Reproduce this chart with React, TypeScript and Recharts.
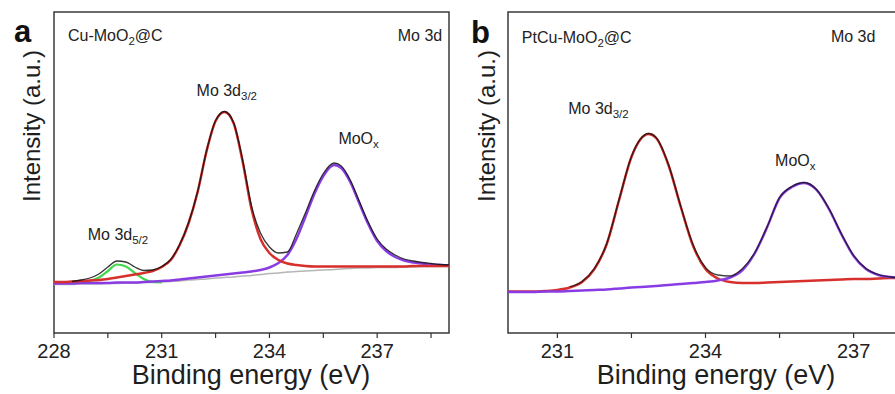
import React from "react";
import { LineChart, Line, XAxis, YAxis, ReferenceArea, ReferenceDot } from "recharts";

const FONT = '"Liberation Sans", Arial, Helvetica, sans-serif';

// ---- panel a: Cu-MoO2@C ----
const energyA = [228, 228.25, 228.5, 228.75, 229, 229.25, 229.5, 229.75, 230, 230.25, 230.5, 230.75, 231, 231.25, 231.5, 231.75, 232, 232.25, 232.5, 232.75, 233, 233.25, 233.5, 233.75, 234, 234.25, 234.5, 234.75, 235, 235.25, 235.5, 235.8, 236, 236.25, 236.5, 236.75, 237, 237.25, 237.5, 237.75, 238, 238.25, 238.5, 238.75, 239];
const backgroundA = [48.5, 48.5, 48.5, 49, 49, 49, 49.5, 49.5, 50, 50, 50.5, 50.5, 51, 51.5, 52, 53, 53.5, 54, 55, 55.5, 56, 57, 57.5, 58.5, 59.5, 60, 61, 61.5, 62, 62.5, 63, 63.5, 64, 64.5, 65, 65, 65.5, 65.5, 65.5, 66, 66, 66.5, 66.5, 66.5, 66.5];
const mooxA = [49.5, 49.5, 49.5, 50, 50, 50, 50, 50.5, 50.5, 50.5, 51, 51.5, 52, 52.5, 53.5, 54.5, 55.5, 56.5, 57.5, 58.5, 59.5, 60.5, 61.5, 63, 65.5, 70, 78, 94, 116, 139, 157, 168, 165, 151, 130, 109, 92, 82, 76, 72.5, 70.5, 69.5, 68.5, 68, 67.5];
const mo32A = [51, 51, 51.5, 52, 52.5, 53, 54, 55.5, 57, 58.5, 60, 62, 66, 73, 88, 110, 141, 182, 212, 221, 210, 172, 124, 94, 80, 73, 69.5, 68, 67, 66.5, 66.5, 66.5, 66.5, 66.5, 66.5, 66.5, 66.5, 66.5, 66.5, 66.5, 67, 67, 67, 67, 67];
const energyGreenA = [228.75, 229, 229.25, 229.5, 229.75, 230, 230.25, 230.5, 230.75, 231];
const mo52A = [50.5, 52, 55.5, 62, 68.5, 66.5, 60, 54, 51, 50.5];
const energyEnvA = energyA.slice(2);
const envelopeA = [51.5, 53, 55, 59, 66, 72, 71, 66, 62.5, 63, 66.5, 73.5, 88.5, 110.5, 141.5, 182.5, 212.5, 221.5, 210.5, 173.5, 127, 100, 86, 80, 81, 99, 120, 142, 159.5, 170, 167, 153, 132, 111, 94, 84, 78, 74, 72, 70.5, 69.5, 68.5, 68];

// ---- panel b: PtCu-MoO2@C ----
const energyB = [230, 230.25, 230.5, 230.75, 231, 231.25, 231.5, 231.75, 232, 232.25, 232.5, 232.85, 233, 233.25, 233.5, 233.75, 234, 234.25, 234.5, 234.75, 235, 235.25, 235.5, 235.75, 236, 236.25, 236.5, 236.75, 237, 237.25, 237.5, 237.75, 238];
const mo32B = [41.5, 41.5, 41.5, 42, 43, 45.5, 51, 64, 89, 133, 176, 199, 195, 168, 126, 87, 64, 54.5, 51, 50, 50, 50.5, 51, 51.5, 52, 52.5, 53, 53.5, 54, 54, 54.5, 55, 55];
const mooxB = [41, 41, 41, 41.5, 41.5, 42, 42.5, 43, 43.5, 44.5, 45.5, 46.5, 47, 48, 49, 50, 51, 52.5, 55.5, 63, 80, 106, 135, 146, 150, 143, 124, 99, 77, 64, 58, 56, 55];
const energyEnvB = energyB.slice(5);
const envelopeB = [46, 51.5, 64.5, 89.5, 133.5, 176.5, 199.5, 195.5, 168.5, 126.5, 88, 65.5, 58, 57, 64.5, 80.5, 106.5, 135.5, 146.5, 150.5, 143.5, 124.5, 99.5, 77.5, 64.5, 58.5, 56, 55];

const ticksA = [228, 229.5, 231, 232.5, 234, 235.5, 237, 238.5];
const ticksB = [231, 232.5, 234, 235.5, 237];

const zip = (xs: number[], ys: number[]) => xs.map((e, i) => ({ e, v: ys[i] }));

type Part = { t: string; sub?: boolean };
type NoteSpec = { x: number; y: number; parts: Part[]; anchor?: "start" | "end" | "middle" };

function NoteText({ cx, cy, parts, anchor }: { cx: number; cy: number; parts: Part[]; anchor: string }) {
  const size = 16;
  let prevSub = false;
  return (
    <text x={cx} y={cy} textAnchor={anchor} fontFamily={FONT} fontSize={size} fill="#222">
      {parts.map((p, i) => {
        const dy = (p.sub ? 4 : 0) - (prevSub ? 4 : 0);
        prevSub = !!p.sub;
        return (
          <tspan key={i} dy={dy} fontSize={p.sub ? 11.5 : size}>
            {p.t}
          </tspan>
        );
      })}
    </text>
  );
}

const notesA: NoteSpec[] = [
  { x: 228.39, y: 292, parts: [{ t: "Cu-MoO" }, { t: "2", sub: true }, { t: "@C" }] },
  { x: 238.81, y: 292, parts: [{ t: "Mo 3d" }], anchor: "end" },
  { x: 231.97, y: 237, parts: [{ t: "Mo 3d" }, { t: "3/2", sub: true }] },
  { x: 235.92, y: 189, parts: [{ t: "MoO" }, { t: "x", sub: true }] },
  { x: 228.94, y: 93, parts: [{ t: "Mo 3d" }, { t: "5/2", sub: true }] },
];
const notesB: NoteSpec[] = [
  { x: 230.28, y: 290, parts: [{ t: "PtCu-MoO" }, { t: "2", sub: true }, { t: "@C" }] },
  { x: 237.44, y: 291, parts: [{ t: "Mo 3d" }], anchor: "end" },
  { x: 231.22, y: 219, parts: [{ t: "Mo 3d" }, { t: "3/2", sub: true }] },
  { x: 235.41, y: 167, parts: [{ t: "MoO" }, { t: "x", sub: true }] },
];

type Series = { key: string; data: { e: number; v: number }[]; color: string; width: number; opacity?: number };

function Panel({ domain, ticks, series, notes }: { domain: [number, number]; ticks: number[]; series: Series[]; notes: NoteSpec[] }) {
  return (
    <LineChart width={452} height={394} margin={{ top: 12, right: 3, bottom: 31, left: 54 }}>
      <XAxis
        type="number"
        dataKey="e"
        domain={domain}
        allowDataOverflow
        ticks={ticks}
        interval={0}
        height={30}
        axisLine={false}
        tickSize={5}
        tickMargin={6}
        tickLine={{ stroke: "#333", strokeWidth: 1.2 }}
        tick={{ fontSize: 20, fill: "#222", fontFamily: FONT }}
        tickFormatter={(v: number) => (Number.isInteger(v) ? String(v) : "")}
      />
      <YAxis hide type="number" domain={[0, 321]} allowDataOverflow />
      <ReferenceArea x1={domain[0]} x2={domain[1]} y1={0} y2={321} fill="none" stroke="#3a3a3a" strokeWidth={1.5} fillOpacity={0} />
      {series.map((s) => (
        <Line
          key={s.key}
          data={s.data}
          dataKey="v"
          type="monotone"
          stroke={s.color}
          strokeWidth={s.width}
          strokeOpacity={s.opacity ?? 1}
          dot={false}
          activeDot={false}
          isAnimationActive={false}
        />
      ))}
      {notes.map((n, i) => (
        <ReferenceDot
          key={i}
          x={n.x}
          y={n.y}
          r={0}
          shape={(p: any) => <NoteText cx={p.cx} cy={p.cy} parts={n.parts} anchor={n.anchor ?? "start"} />}
        />
      ))}
    </LineChart>
  );
}

const RED = "#d62f2c";
const PURPLE = "#8a3ce4";
const GREEN = "#3fd84a";
const GRAY = "#b5b5b5";
const BLACK = "#111";

export default function App() {
  const seriesA: Series[] = [
    { key: "bg", data: zip(energyA, backgroundA), color: GRAY, width: 1.5 },
    { key: "mo52", data: zip(energyGreenA, mo52A), color: GREEN, width: 2.2 },
    { key: "moox", data: zip(energyA, mooxA), color: PURPLE, width: 2.5 },
    { key: "mo32", data: zip(energyA, mo32A), color: RED, width: 2.5 },
    { key: "env", data: zip(energyEnvA, envelopeA), color: BLACK, width: 1.3, opacity: 0.85 },
  ];
  const seriesB: Series[] = [
    { key: "mo32", data: zip(energyB, mo32B), color: RED, width: 2.5 },
    { key: "moox", data: zip(energyB, mooxB), color: PURPLE, width: 2.5 },
    { key: "env", data: zip(energyEnvB, envelopeB), color: BLACK, width: 1.3, opacity: 0.8 },
  ];
  const title = { fontFamily: FONT, fontSize: 27, fill: "#1e1e1e" };
  const yTitle = { fontFamily: FONT, fontSize: 24, fill: "#1e1e1e" };
  return (
    <div style={{ position: "absolute", left: 0, top: 0, width: 895, height: 394, overflow: "hidden", background: "#fff" }}>
      <div style={{ position: "absolute", left: 0, top: 0 }}>
        <Panel domain={[228, 239]} ticks={ticksA} series={seriesA} notes={notesA} />
      </div>
      <div style={{ position: "absolute", left: 454, top: 0 }}>
        <Panel domain={[230, 238]} ticks={ticksB} series={seriesB} notes={notesB} />
      </div>
      <svg width={895} height={394} style={{ position: "absolute", left: 0, top: 0, pointerEvents: "none" }}>
        <text x={14} y={42} fontFamily={FONT} fontSize={31} fontWeight="bold" fill="#111">a</text>
        <text x={471} y={43} fontFamily={FONT} fontSize={31} fontWeight="bold" fill="#111">b</text>
        <text x={31} y={126} transform="rotate(-90 31 126)" textAnchor="middle" dominantBaseline="central" {...yTitle}>Intensity (a.u.)</text>
        <text x={486} y={126} transform="rotate(-90 486 126)" textAnchor="middle" dominantBaseline="central" {...yTitle}>Intensity (a.u.)</text>
        <text x={251} y={384} textAnchor="middle" {...title}>Binding energy (eV)</text>
        <text x={716} y={384} textAnchor="middle" {...title}>Binding energy (eV)</text>
      </svg>
    </div>
  );
}
